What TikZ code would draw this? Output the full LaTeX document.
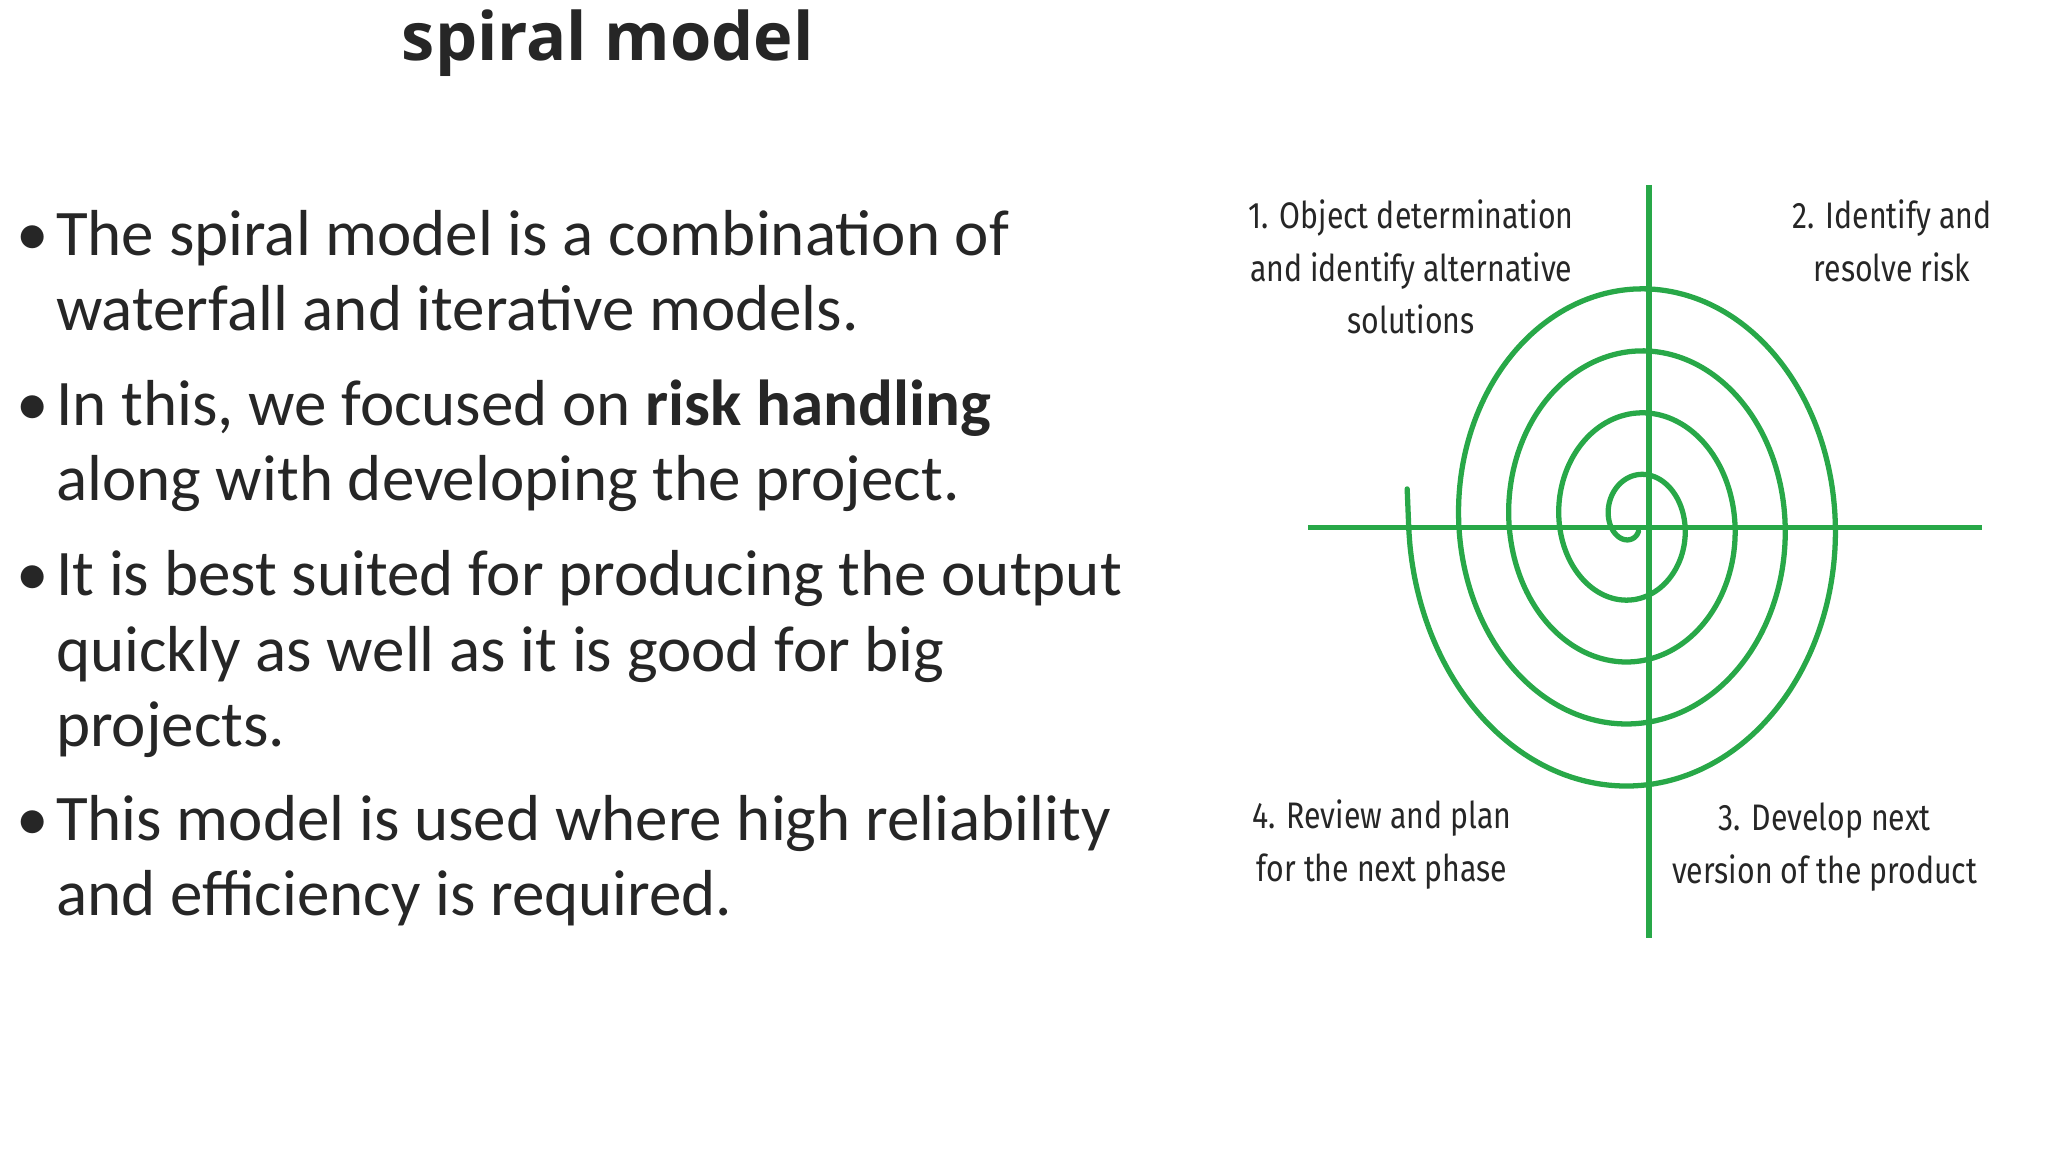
\documentclass[tikz,border=0pt]{standalone}
\usepackage{fontspec}
\setmainfont{Carlito}
\newfontfamily\titlefont{Open Sans}
\newfontfamily\labfont{Fira Sans}
\definecolor{spgreen}{RGB}{40,168,72}
\definecolor{txt}{RGB}{38,38,38}
\begin{document}
\begin{tikzpicture}[x=0.013213cm,y=-0.013213cm,
  line/.style={anchor=base west,inner sep=0,font=\fontsize{18.5}{20}\selectfont,text=txt},
  bul/.style={anchor=base west,inner sep=0,font=\fontsize{18.5}{20}\selectfont,text=txt},
  lab/.style={align=center,inner sep=0,font=\labfont\fontsize{10.5}{15}\selectfont,text=txt,xscale=0.82},
  gline/.style={draw=spgreen,line width=1.5pt}]
\useasboundingbox (0,0) rectangle (1550,872);
\node[inner sep=0,font=\titlefont\bfseries\fontsize{19}{20}\selectfont,text=txt] (title) at (460,33) {spiral model};
\foreach \y in {193,322,451,636}{\node[bul] at (12,\y) {•};}
\node[line] (l1) at (42,193) {The spiral model is a combination of};
\node[line] (l2) at (42,250) {waterfall and iterative models.};
\node[line] (l3) at (42,322) {In this, we focused on \textbf{risk handling}};
\node[line] (l4) at (42,379) {along with developing the project.};
\node[line] (l5) at (42,451) {It is best suited for producing the output};
\node[line] (l6) at (42,508) {quickly as well as it is good for big};
\node[line] (l7) at (42,565) {projects.};
\node[line] (l8) at (42,636) {This model is used where high reliability};
\node[line] (l9) at (42,693) {and efficiency is required.};
% spiral
\coordinate (hl) at (990,399); \coordinate (hr) at (1500,399);
\coordinate (vt) at (1248,140); \coordinate (vb) at (1248,710);
\coordinate (send) at (1065,370);
\draw[gline] (hl) -- (hr);
\draw[gline] (vt) -- (vb);
\draw[gline,line cap=round] plot[domain=0.17:4.5,samples=500,smooth] ({1237+38*\x*cos(\x*360)},{395+47*\x*sin(\x*360)}) -- (send);
\node[lab] (q1) at (1068,202) {1. Object determination\\and identify alternative\\solutions};
\node[lab] (q2) at (1432,182) {2. Identify and\\resolve risk};
\node[lab] (q4) at (1046,639) {4. Review and plan\\for the next phase};
\node[lab] (q3) at (1381,641) {3. Develop next\\version of the product};
\end{tikzpicture}
\end{document}
